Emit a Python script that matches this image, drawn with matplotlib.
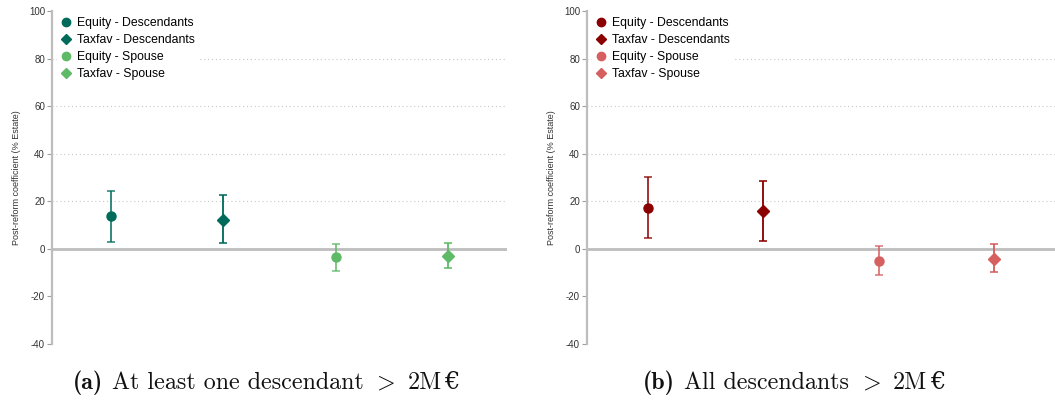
import matplotlib
matplotlib.use("Agg")
import matplotlib.pyplot as plt
from matplotlib.lines import Line2D

# Estimated post-reform coefficients (% of estate) with 95% CI bounds
series = ["Equity - Descendants", "Taxfav - Descendants", "Equity - Spouse", "Taxfav - Spouse"]
markers = ["o", "D", "o", "D"]

coef_a = [13.7, 12.2, -3.6, -3.1]
low_a = [2.7, 2.3, -9.1, -8.1]
high_a = [24.5, 22.5, 1.9, 2.3]

coef_b = [17.2, 15.9, -4.9, -4.2]
low_b = [4.4, 3.5, -11.2, -9.8]
high_b = [30.0, 28.5, 1.4, 1.9]

colors_a = ["#006b5b", "#006b5b", "#5fba67", "#5fba67"]
colors_b = ["#8b0000", "#8b0000", "#d65f5f", "#d65f5f"]

yticks = [-40, -20, 0, 20, 40, 60, 80, 100]
caption_tags = ["(a)", "(b)"]
caption_texts = ["At least one descendant", "All descendants"]

plt.rcParams["font.family"] = ["Liberation Sans", "DejaVu Sans"]
plt.rcParams["mathtext.fontset"] = "cm"
plt.rcParams["axes.unicode_minus"] = False

fig = plt.figure(figsize=(10.55, 4.01), dpi=100)
ax_a = fig.add_axes([52 / 1055, 1 - 344 / 401, (507 - 52) / 1055, 333 / 401])
ax_b = fig.add_axes([587 / 1055, 1 - 344 / 401, (1055 - 587) / 1055, 333 / 401])


def draw_panel(ax, coef, low, high, colors):
    for gy in [20, 40, 60, 80]:
        ax.axhline(gy, color="#c8c8c8", lw=0.8, ls=(0, (1, 2.5)), zorder=0)
    ax.axhline(0, color="#bdbdbd", lw=2.0, zorder=1)
    handles = []
    for i, (c, lo, hi, col, mk) in enumerate(zip(coef, low, high, colors, markers)):
        x = i + 1
        ax.errorbar([x], [c], yerr=[[c - lo], [hi - c]], fmt="none",
                    ecolor=col, elinewidth=1.4, capsize=3, capthick=1.2,
                    alpha=0.8 if i % 2 == 0 else 0.95, zorder=2)
        ax.plot([x], [c], marker=mk, color=col, ms=6.5 if mk == "o" else 6,
                ls="none", zorder=3)
        handles.append(Line2D([], [], marker=mk, color=col, ls="none",
                              ms=6 if mk == "o" else 5.5, label=series[i]))
    ax.set_xlim(0.47, 4.53)
    ax.set_ylim(-40, 100)
    ax.set_yticks(yticks)
    ax.set_xticks([])
    for s in ["top", "right", "bottom"]:
        ax.spines[s].set_visible(False)
    ax.spines["left"].set_color("#bdbdbd")
    ax.spines["left"].set_linewidth(1.6)
    ax.tick_params(axis="y", length=3.5, width=0.8, color="#9e9e9e",
                   labelsize=7, labelcolor="#333333", pad=1.5)
    ax.set_ylabel("Post-reform coefficient (% Estate)", fontsize=6.5,
                  color="#333333", labelpad=6)
    leg = ax.legend(handles=handles, loc="upper left",
                    bbox_to_anchor=(0.005, 1.001),
                    frameon=True, fontsize=8.8, handlelength=0.8,
                    handletextpad=0.5, labelspacing=0.4, borderpad=0.3,
                    borderaxespad=0.25)
    leg.get_frame().set_edgecolor("white")
    leg.get_frame().set_facecolor("white")
    leg.get_frame().set_alpha(1.0)
    leg.set_zorder(5)


draw_panel(ax_a, coef_a, low_a, high_a, colors_a)
draw_panel(ax_b, coef_b, low_b, high_b, colors_b)

# Captions are assembled from pieces so each part can use its own font
renderer = fig.canvas.get_renderer()
cap_size = 17.3
space_px = 8.0


def caption(cx_px, cy_px, tag, text):
    # (string, font kwargs, gap in px after the piece)
    pieces = [
        (tag, dict(family="cmb10"), space_px + 1),
        (text, dict(family="cmr10"), 9.0),
        (r"$>$", dict(), 12.0),
        ("2M", dict(family="cmr10"), 2.5),
        ("€", dict(family="DejaVu Serif"), 0),
    ]
    artists = []
    advances = []
    for s, kw, gap in pieces:
        t = fig.text(0, 0, s, fontsize=cap_size, color="#111111",
                     ha="left", va="baseline", transform=None, **kw)
        bb = t.get_window_extent(renderer)
        artists.append(t)
        advances.append(bb.width + gap)
    x = cx_px - sum(advances) / 2
    for t, adv in zip(artists, advances):
        t.set_position((x, cy_px))
        x += adv


caption(266, 401 - 389, caption_tags[0], caption_texts[0])
caption(794, 401 - 389, caption_tags[1], caption_texts[1])

fig.savefig("out.png", dpi=100)
